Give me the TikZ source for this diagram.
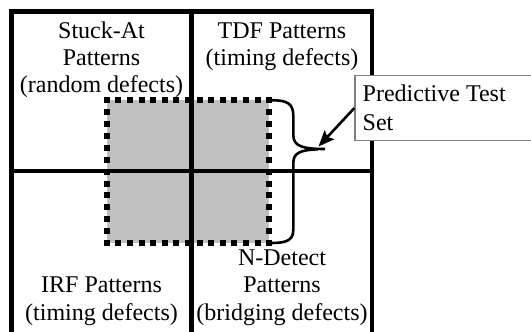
\documentclass[tikz,border=0pt]{standalone}
\usepackage{fontspec}
\setmainfont{Liberation Serif}
\usetikzlibrary{arrows.meta}
\definecolor{fillgray}{RGB}{192,192,192}
\definecolor{boxgray}{RGB}{128,128,128}
\begin{document}
\begin{tikzpicture}[x=1pt,y=-1pt,
  lbl/.style={font=\fontsize{24}{27}\selectfont, inner sep=0pt, anchor=base},
  lblw/.style={font=\fontsize{24}{27}\selectfont, inner sep=0pt, anchor=base west},
  gridline/.style={line width=4.5pt, line join=miter},
  dotline/.style={line width=6pt, line cap=butt},
  bracestyle/.style={line width=2.6pt},
  arrowstyle/.style={line width=2.6pt, -{Stealth[length=16pt,width=13pt,inset=3pt]}},
  textbox/.style={draw=boxgray, line width=1.2pt, fill=white, inner sep=0pt, anchor=north west}]
\useasboundingbox (0,0) rectangle (531,332);
\fill[white] (0,0) rectangle (531,332);
% shaded predictive region
\fill[fillgray] (106.7,100.3) rectangle (269.3,243);
% grid
\draw[gridline] (11.7,336) -- (11.7,11.3) -- (372.2,11.3) -- (372.2,336);
\draw[gridline] (191.3,11.3) -- (191.3,336);
\draw[gridline] (11.7,171) -- (372.2,171);
% dotted border
\draw[dotline, dash pattern=on 6pt off 5.614pt] (103.7,100.3) -- (272.3,100.3);
\draw[dotline, dash pattern=on 6pt off 5.614pt] (103.7,243) -- (272.3,243);
\draw[dotline, dash pattern=on 6pt off 5.89pt] (106.7,97.3) -- (106.7,246);
\draw[dotline, dash pattern=on 6pt off 5.89pt] (269.3,97.3) -- (269.3,246);
% cell labels
\node[lbl] (sa1) at (101.5,38.5) {Stuck-At};
\node[lbl] (sa2) at (101.5,65.5) {Patterns};
\node[lbl] (sa3) at (101.5,92.5) {(random defects)};
\node[lbl] (tdf1) at (282,38.5) {TDF Patterns};
\node[lbl] (tdf2) at (282,65.5) {(timing defects)};
\node[lbl] (irf1) at (101.5,292.5) {IRF Patterns};
\node[lbl] (irf2) at (101.5,320) {(timing defects)};
\node[lbl] (nd1) at (282,265) {N-Detect};
\node[lbl] (nd2) at (282,292.5) {Patterns};
\node[lbl] (nd3) at (282,320) {(bridging defects)};
% brace
\coordinate (bracetop) at (271,100.3);
\coordinate (bracebot) at (271,243);
\coordinate (cusp) at (325,149);
\coordinate (tip) at (318.5,146.5);
\draw[bracestyle] (bracetop) .. controls (288,100) and (293.3,104) .. (293.3,116)
  -- (293.3,135) .. controls (293.3,146) and (302,149) .. (cusp);
\draw[bracestyle] (318,149.3) .. controls (300,150) and (293.3,153) .. (293.3,163)
  -- (293.3,230) .. controls (293.3,241) and (285,243) .. (bracebot);
% text box
\node[textbox, minimum width=180pt, minimum height=65pt] (ptsbox) at (354.3,75) {};
\node[lblw] (pts1) at (362.5,101.5) {Predictive Test};
\node[lblw] (pts2) at (362.5,130.5) {Set};
\draw[arrowstyle] (ptsbox.west) -- (tip);
\end{tikzpicture}
\end{document}
